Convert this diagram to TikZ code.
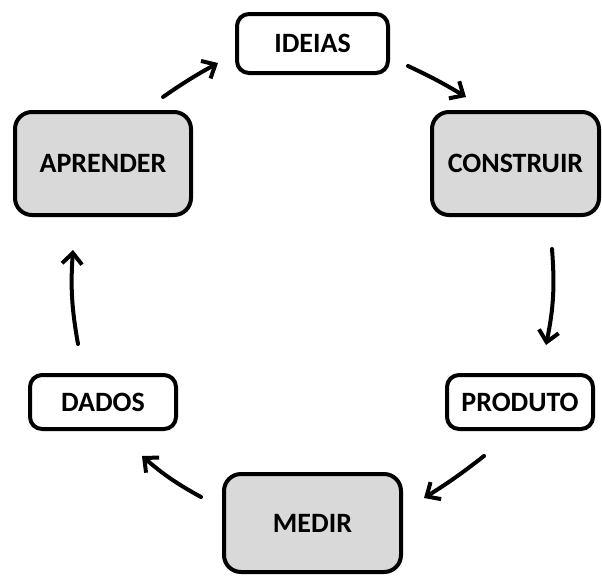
\documentclass[tikz,border=0pt]{standalone}
\usepackage{fontspec}
\setmainfont{Carlito}
\usetikzlibrary{arrows.meta}
\begin{document}
\begin{tikzpicture}[x=1pt,y=-1pt,
  stage/.style={draw=black, line width=4pt, rounded corners=12pt, align=center,
    font=\fontsize{28}{32}\selectfont\bfseries, text=black, inner sep=0pt},
  smallbox/.style={stage, fill=white},
  bigbox/.style={stage, fill=black!15, rounded corners=17pt},
  flow/.style={line width=4pt, line cap=round,
    -{Straight Barb[length=11pt,width=20pt,line width=4pt]}}
]
\useasboundingbox (0,0) rectangle (602,576);

\node[smallbox, minimum width=151pt, minimum height=59pt] (ideias)    at (312.5,43.5) {IDEIAS};
\node[bigbox,   minimum width=167pt, minimum height=103pt] (construir) at (515.5,163.5) {CONSTRUIR};
\node[bigbox,   minimum width=176pt, minimum height=103pt] (aprender)  at (103,163.5) {APRENDER};
\node[smallbox, minimum width=146pt, minimum height=54pt] (produto)   at (520,402) {PRODUTO};
\node[smallbox, minimum width=146pt, minimum height=54pt] (dados)     at (103,402) {DADOS};
\node[bigbox,   minimum width=177pt, minimum height=98pt] (medir)     at (312.5,523) {MEDIR};

% free ends of the cycle arrows
\coordinate (a1s) at (163,97);  \coordinate (a1e) at (218,63);
\coordinate (a2s) at (408,66);  \coordinate (a2e) at (466,97);
\coordinate (a3s) at (552,249); \coordinate (a3e) at (546,345);
\coordinate (a4s) at (484,456); \coordinate (a4e) at (424,498);
\coordinate (a5s) at (201,497); \coordinate (a5e) at (142,456);
\coordinate (a6s) at (78,344);  \coordinate (a6e) at (73,250);

\draw[flow] (a1s) to[bend left=3]  (a1e);
\draw[flow] (a2s) to[bend left=3]  (a2e);
\draw[flow] (a3s) to[bend left=8]  (a3e);
\draw[flow] (a4s) to[bend left=3]  (a4e);
\draw[flow] (a5s) to[bend left=6]  (a5e);
\draw[flow] (a6s) to[bend left=7]  (a6e);
\end{tikzpicture}
\end{document}
